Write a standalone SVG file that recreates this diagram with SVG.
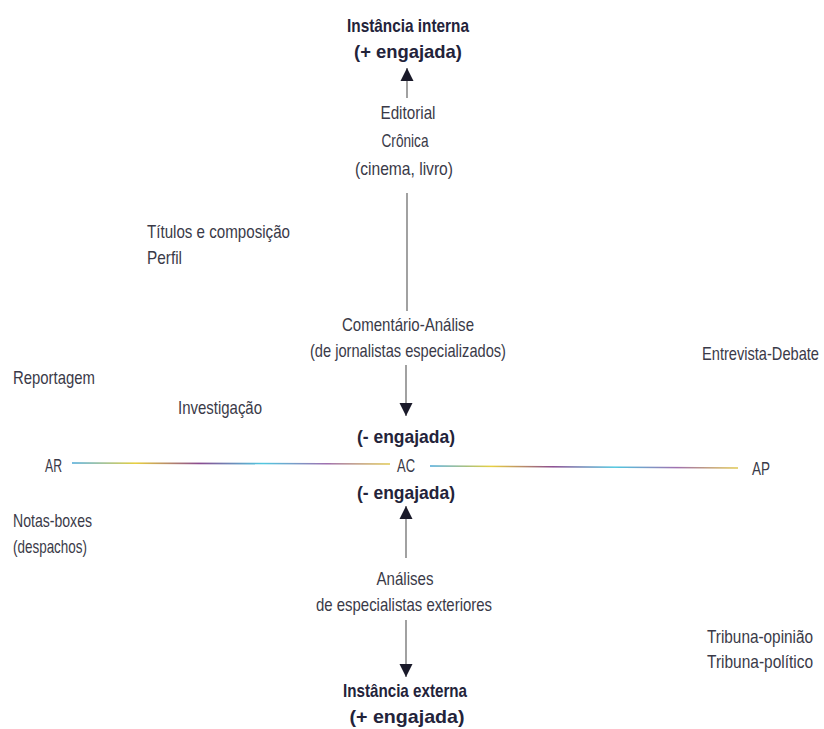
<svg xmlns="http://www.w3.org/2000/svg" width="824" height="729" viewBox="0 0 824 729">
<style>
text{font-family:"Liberation Sans","DejaVu Sans",sans-serif;font-size:18.5px;fill:#3a3a48}
.b{font-weight:bold;fill:#23233a}
.c{text-anchor:middle}
.ln{stroke:#555;stroke-width:1.1;fill:none}
.hz{stroke:url(#rb);stroke-width:1.6;fill:none}
</style>
<defs>
<linearGradient id="rb" x1="0" y1="0" x2="1" y2="0">
<stop offset="0" stop-color="#4aa8d8"/>
<stop offset="0.2" stop-color="#e8d040"/>
<stop offset="0.4" stop-color="#8a4a90"/>
<stop offset="0.6" stop-color="#50c8e0"/>
<stop offset="0.8" stop-color="#a070b0"/>
<stop offset="1" stop-color="#e0c850"/>
</linearGradient>
<marker id="ah" viewBox="0 0 10 10" refX="10" refY="5" markerWidth="13" markerHeight="14" markerUnits="userSpaceOnUse" orient="auto">
<path d="M0,0 L10,5 L0,10 Z" fill="#1a1a2a"/>
</marker>
</defs>

<g id="connectors">
<line class="ln" x1="407" y1="98" x2="407" y2="68" marker-end="url(#ah)"/>
<line class="ln" x1="407" y1="193" x2="407" y2="311"/>
<line class="ln" x1="406" y1="365" x2="406" y2="416" marker-end="url(#ah)"/>
<line class="ln" x1="406" y1="558" x2="406" y2="506" marker-end="url(#ah)"/>
<line class="ln" x1="406" y1="620" x2="406" y2="677" marker-end="url(#ah)"/>
<line class="hz" x1="72" y1="463" x2="390" y2="464"/>
<line class="hz" x1="430" y1="466" x2="738" y2="468"/>
</g>

<g id="instancia-interna">
<text class="b c" x="408" y="32" textLength="122" lengthAdjust="spacingAndGlyphs">Instância interna</text>
<text class="b c" x="408" y="58" textLength="108" lengthAdjust="spacingAndGlyphs">(+ engajada)</text>
</g>
<g id="editorial">
<text class="c" x="408" y="119" textLength="55" lengthAdjust="spacingAndGlyphs">Editorial</text>
<text class="c" x="405" y="147" textLength="47" lengthAdjust="spacingAndGlyphs">Crônica</text>
<text class="c" x="404" y="175" textLength="98" lengthAdjust="spacingAndGlyphs">(cinema, livro)</text>
</g>
<g id="titulos">
<text x="147" y="238" textLength="143" lengthAdjust="spacingAndGlyphs">Títulos e composição</text>
<text x="147" y="264" textLength="35" lengthAdjust="spacingAndGlyphs">Perfil</text>
</g>
<g id="comentario">
<text class="c" x="408" y="331" textLength="132" lengthAdjust="spacingAndGlyphs">Comentário-Análise</text>
<text class="c" x="408" y="357" textLength="196" lengthAdjust="spacingAndGlyphs">(de jornalistas especializados)</text>
</g>
<g id="reportagem">
<text x="13" y="384" textLength="82" lengthAdjust="spacingAndGlyphs">Reportagem</text>
</g>
<g id="investigacao">
<text x="178" y="414" textLength="84" lengthAdjust="spacingAndGlyphs">Investigação</text>
</g>
<g id="entrevista">
<text transform="translate(702,360) scale(0.75,1)" x="0" y="0" textLength="156" lengthAdjust="spacingAndGlyphs">Entrevista-Debate</text>
</g>
<g id="menos-engajada-top">
<text class="b c" x="406" y="443" textLength="98" lengthAdjust="spacingAndGlyphs">(- engajada)</text>
</g>
<g id="AR">
<text x="45" y="472" textLength="17" lengthAdjust="spacingAndGlyphs">AR</text>
</g>
<g id="AC">
<text x="397" y="472" textLength="18" lengthAdjust="spacingAndGlyphs">AC</text>
</g>
<g id="AP">
<text x="752" y="475" textLength="18" lengthAdjust="spacingAndGlyphs">AP</text>
</g>
<g id="menos-engajada-bottom">
<text class="b c" x="406" y="499" textLength="98" lengthAdjust="spacingAndGlyphs">(- engajada)</text>
</g>
<g id="notas">
<text x="13" y="527" textLength="79" lengthAdjust="spacingAndGlyphs">Notas-boxes</text>
<text x="13" y="553" textLength="74" lengthAdjust="spacingAndGlyphs">(despachos)</text>
</g>
<g id="analises">
<text class="c" x="405" y="585" textLength="57" lengthAdjust="spacingAndGlyphs">Análises</text>
<text class="c" x="404" y="611" textLength="176" lengthAdjust="spacingAndGlyphs">de especialistas exteriores</text>
</g>
<g id="tribuna">
<text transform="translate(707,643) scale(0.78,1)" x="0" y="0" textLength="136" lengthAdjust="spacingAndGlyphs">Tribuna-opinião</text>
<text transform="translate(707,668) scale(0.78,1)" x="0" y="0" textLength="136" lengthAdjust="spacingAndGlyphs">Tribuna-político</text>
</g>
<g id="instancia-externa">
<text class="b c" x="405" y="697" textLength="124" lengthAdjust="spacingAndGlyphs">Instância externa</text>
<text class="b c" x="407" y="723" textLength="115" lengthAdjust="spacingAndGlyphs">(+ engajada)</text>
</g>
</svg>
